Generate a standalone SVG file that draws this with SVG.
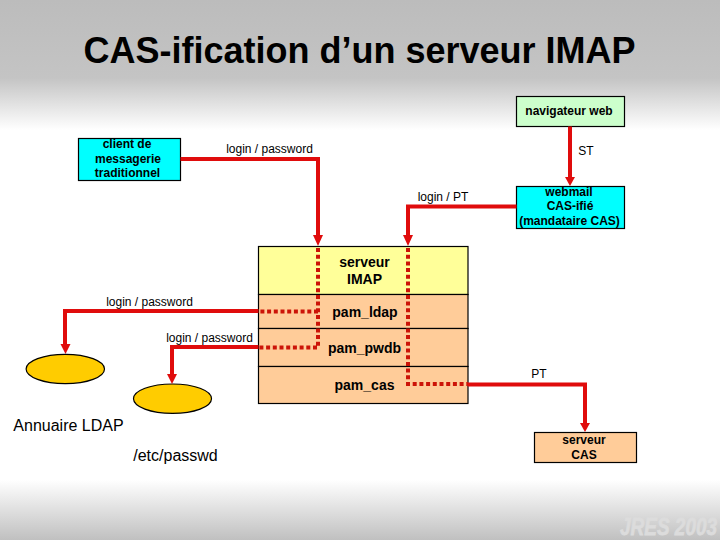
<svg xmlns="http://www.w3.org/2000/svg" width="720" height="540" viewBox="0 0 720 540">
<style>
text{font-family:"Liberation Sans",Arial,sans-serif;fill:#000;text-anchor:middle}
.n{font-size:12px;font-weight:700}
.m{font-size:14px;font-weight:700}
.l{font-size:12px}
.b{font-size:16px}
.box{stroke:#000;stroke-width:1.2}
.s{fill:none;stroke:#e00c0c;stroke-width:4;stroke-linejoin:miter}
.d{fill:none;stroke:#cc1408;stroke-width:4;stroke-dasharray:4 2.700}
.a{fill:#e00c0c}
</style>
<defs>
<linearGradient id="top" x1="0" y1="0" x2="0" y2="1"><stop offset="0" stop-color="#bcbcbc"/><stop offset=".6" stop-color="#c4c4c4"/><stop offset="1" stop-color="#fff"/></linearGradient>
<linearGradient id="bot" x1="0" y1="0" x2="0" y2="1"><stop offset="0" stop-color="#fff"/><stop offset="1" stop-color="#c0c0c0"/></linearGradient>
</defs>
<rect width="720" height="540" fill="#fff"/>
<rect width="720" height="130" fill="url(#top)"/>
<rect y="480" width="720" height="60" fill="url(#bot)"/>
<text transform="translate(620 534.500) scale(1 1.300)" style="font-size:19px;font-weight:700;font-style:italic;text-anchor:start;fill:#dcdcdc;stroke:#dcdcdc;stroke-width:.6px">JRES 2003</text>
<text id="title" x="359.500" y="63" style="font-size:36px;font-weight:700">CAS-ification d’un serveur IMAP</text>

<g id="serveur-imap">
<rect class="box" x="258.500" y="246.500" width="209.500" height="48" fill="#ffff99"/>
<text class="m" x="364.500" y="266.500">serveur</text>
<text class="m" x="364.500" y="283.500">IMAP</text>
</g>
<g id="pam-ldap">
<rect class="box" x="258.500" y="294.500" width="209.500" height="34" fill="#ffcc99"/>
<text class="m" x="365" y="316.500">pam_ldap</text>
</g>
<g id="pam-pwdb">
<rect class="box" x="258.500" y="328.500" width="209.500" height="38" fill="#ffcc99"/>
<text class="m" x="364.500" y="352.500">pam_pwdb</text>
</g>
<g id="pam-cas">
<rect class="box" x="258.500" y="366.500" width="209.500" height="37" fill="#ffcc99"/>
<text class="m" x="364.500" y="389.500">pam_cas</text>
</g>
<g id="client">
<rect class="box" x="78.500" y="138.500" width="102" height="42" fill="#00ffff"/>
<text class="n" x="127" y="148">client de</text>
<text class="n" x="128" y="162.500">messagerie</text>
<text class="n" x="127.500" y="177">traditionnel</text>
</g>
<g id="navigateur">
<rect class="box" x="516.500" y="96.500" width="108" height="30" fill="#ccffcc"/>
<text class="n" x="569" y="115">navigateur web</text>
</g>
<g id="webmail">
<rect class="box" x="516.500" y="186.500" width="108" height="42" fill="#00ffff"/>
<text class="n" x="569" y="196">webmail</text>
<text class="n" x="570" y="210">CAS-ifié</text>
<text class="n" x="569.500" y="225">(mandataire CAS)</text>
</g>
<g id="serveur-cas">
<rect class="box" x="534.500" y="432.500" width="102" height="30" fill="#ffcc99"/>
<text class="n" x="584" y="444">serveur</text>
<text class="n" x="584" y="459">CAS</text>
</g>
<g id="annuaire-ldap">
<ellipse class="box" cx="65.300" cy="369" rx="39.200" ry="14.700" fill="#ffcc00"/>
<text class="b" x="68.500" y="431">Annuaire LDAP</text>
</g>
<g id="etc-passwd">
<ellipse class="box" cx="172.500" cy="398.700" rx="39" ry="14.700" fill="#ffcc00"/>
<text class="b" x="175.500" y="461">/etc/passwd</text>
</g>

<g id="connectors">
<path class="s" d="M180.500 159H318V236"/>
<path class="a" d="M313 235H323L318 246Z"/>
<path class="s" d="M570 126.500V178"/>
<path class="a" d="M565 177H575L570 186Z"/>
<path class="s" d="M516.500 206.500H408V236"/>
<path class="a" d="M403 235H413L408 246Z"/>
<path class="d" d="M318 248V347.500H258.500"/>
<path class="d" d="M318 311.500H258.500"/>
<path class="d" d="M408 248V384H468"/>
<path class="s" d="M258.500 311H65V346"/>
<path class="a" d="M60.500 344H70.500L65.500 354Z"/>
<path class="s" d="M258.500 347H172V376"/>
<path class="a" d="M167 374H177L172 384Z"/>
<path class="s" d="M468 384.500H585V424"/>
<path class="a" d="M580 423H590L585 432Z"/>
</g>
<g id="labels">
<text class="l" x="269.500" y="153">login / password</text>
<text class="l" x="149.500" y="306">login / password</text>
<text class="l" x="209.500" y="342">login / password</text>
<text class="l" x="443" y="201">login / PT</text>
<text class="l" x="586" y="155">ST</text>
<text class="l" x="539" y="378">PT</text>
</g>
</svg>
